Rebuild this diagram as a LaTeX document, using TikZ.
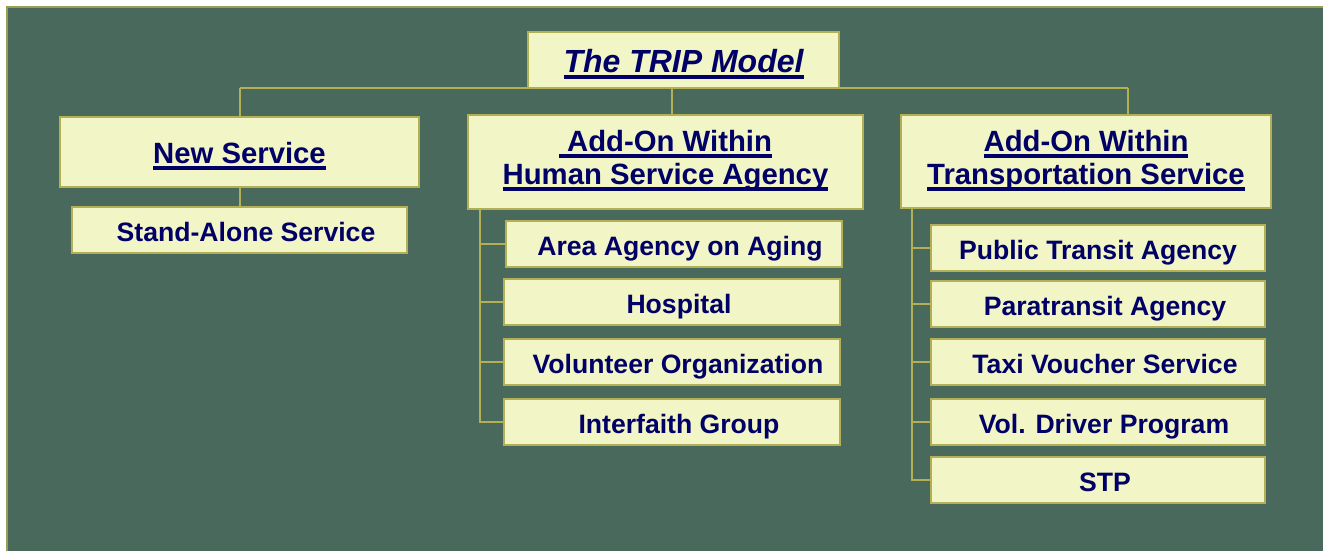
\documentclass[tikz,border=0pt]{standalone}
\usepackage{fontspec}
\setmainfont{Liberation Sans}
\definecolor{bgc}{HTML}{48695C}
\definecolor{boxfill}{HTML}{F2F5C5}
\definecolor{boxline}{HTML}{B2AF55}
\definecolor{frameline}{HTML}{9A9D52}
\definecolor{txt}{HTML}{000066}
\newsavebox\ulbox
\newcommand\ulx[1]{\sbox\ulbox{#1}\rlap{\usebox\ulbox}\rule[-6.5pt]{\wd\ulbox}{3.4pt}}
\begin{document}
\begin{tikzpicture}[x=1pt,y=-1pt,
  box/.style={draw=boxline, line width=2pt, fill=boxfill, inner sep=0pt, text=txt},
  subbox/.style={box, minimum width=336pt, minimum height=46pt,
    font=\fontsize{26.6}{30}\selectfont\bfseries, text height=22pt, text depth=0pt},
  headbox/.style={box, font=\fontsize{29.3}{33}\selectfont\bfseries, text height=22pt, text depth=0pt},
  headtext/.style={inner sep=0pt, anchor=base, text=txt, font=\fontsize{29.3}{33}\selectfont\bfseries},
  conn/.style={draw=boxline, line width=2pt}
]
\useasboundingbox (0,0) rectangle (1323,550);
\clip (0,0) rectangle (1323,550);
\fill[white] (0,0) rectangle (1323,550);
\fill[bgc] (6,6) rectangle (1330,560);
\draw[frameline, line width=2pt] (7,560) -- (7,7) -- (1330,7);

% top
\node[box, minimum width=311pt, minimum height=56pt, text height=24pt, text depth=0pt,
  font=\fontsize{32}{36}\selectfont\bfseries\itshape] (trip) at (683.5,60) {\ulx{The TRIP Model}};

% level 1
\node[headbox, minimum width=359pt, minimum height=70pt] (ns) at (239.5,152) {\ulx{New Service}};
\node[box, minimum width=395pt, minimum height=94pt] (hsa) at (665.5,162) {};
\node[headtext] (hsa1) at (665.5,151) {\ulx{\ Add-On Within}};
\node[headtext] (hsa2) at (665.5,184) {\ulx{Human Service Agency}};
\node[box, minimum width=370pt, minimum height=93pt] (tsa) at (1086,161.5) {};
\node[headtext] (tsa1) at (1086,151) {\ulx{Add-On Within}};
\node[headtext] (tsa2) at (1086,184) {\ulx{Transportation Service}};

% connectors from top
\coordinate (jl) at (239.5,88);
\coordinate (jm) at (672,88);
\coordinate (jr) at (1128,88);
\draw[conn] (jl) -- (jr);
\draw[conn] (jl) -- (ns.north);
\draw[conn] (jm) -- (jm |- hsa.north);
\draw[conn] (jr) -- (jr |- tsa.north);

% new service child
\node[subbox, minimum width=335pt] (sas) at (239.5,230) {\hspace*{13pt}Stand-Alone Service};
\draw[conn] (ns.south) -- (sas.north);

% human service agency children
\node[subbox] (aaa) at (674,244) {\hspace*{12pt}Area Agency on Aging};
\node[subbox] (hos) at (672,302) {\hspace*{14pt}Hospital};
\node[subbox] (vol) at (672,362) {\hspace*{12pt}Volunteer Organization};
\node[subbox] (ifg) at (672,422) {\hspace*{14pt}Interfaith Group};
\coordinate (t1) at (480,0);
\draw[conn] (hsa.south -| t1) |- (ifg.west);
\foreach \n in {aaa,hos,vol} \draw[conn] (t1 |- \n.west) -- (\n.west);

% transportation service children
\node[subbox, minimum width=334pt] (pta) at (1098,248) {Public Transit Agency};
\node[subbox, minimum width=334pt] (pa) at (1098,304) {\hspace*{14pt}Paratransit Agency};
\node[subbox, minimum width=334pt] (tvs) at (1098,362) {\hspace*{14pt}Taxi Voucher Service};
\node[subbox, minimum width=334pt] (vdp) at (1098,422) {\hspace*{12pt}Vol. Driver Program};
\node[subbox, minimum width=334pt] (stp) at (1098,480) {\hspace*{14pt}STP};
\coordinate (t2) at (912,0);
\draw[conn] (tsa.south -| t2) |- (stp.west);
\foreach \n in {pta,pa,tvs,vdp} \draw[conn] (t2 |- \n.west) -- (\n.west);
\end{tikzpicture}
\end{document}
